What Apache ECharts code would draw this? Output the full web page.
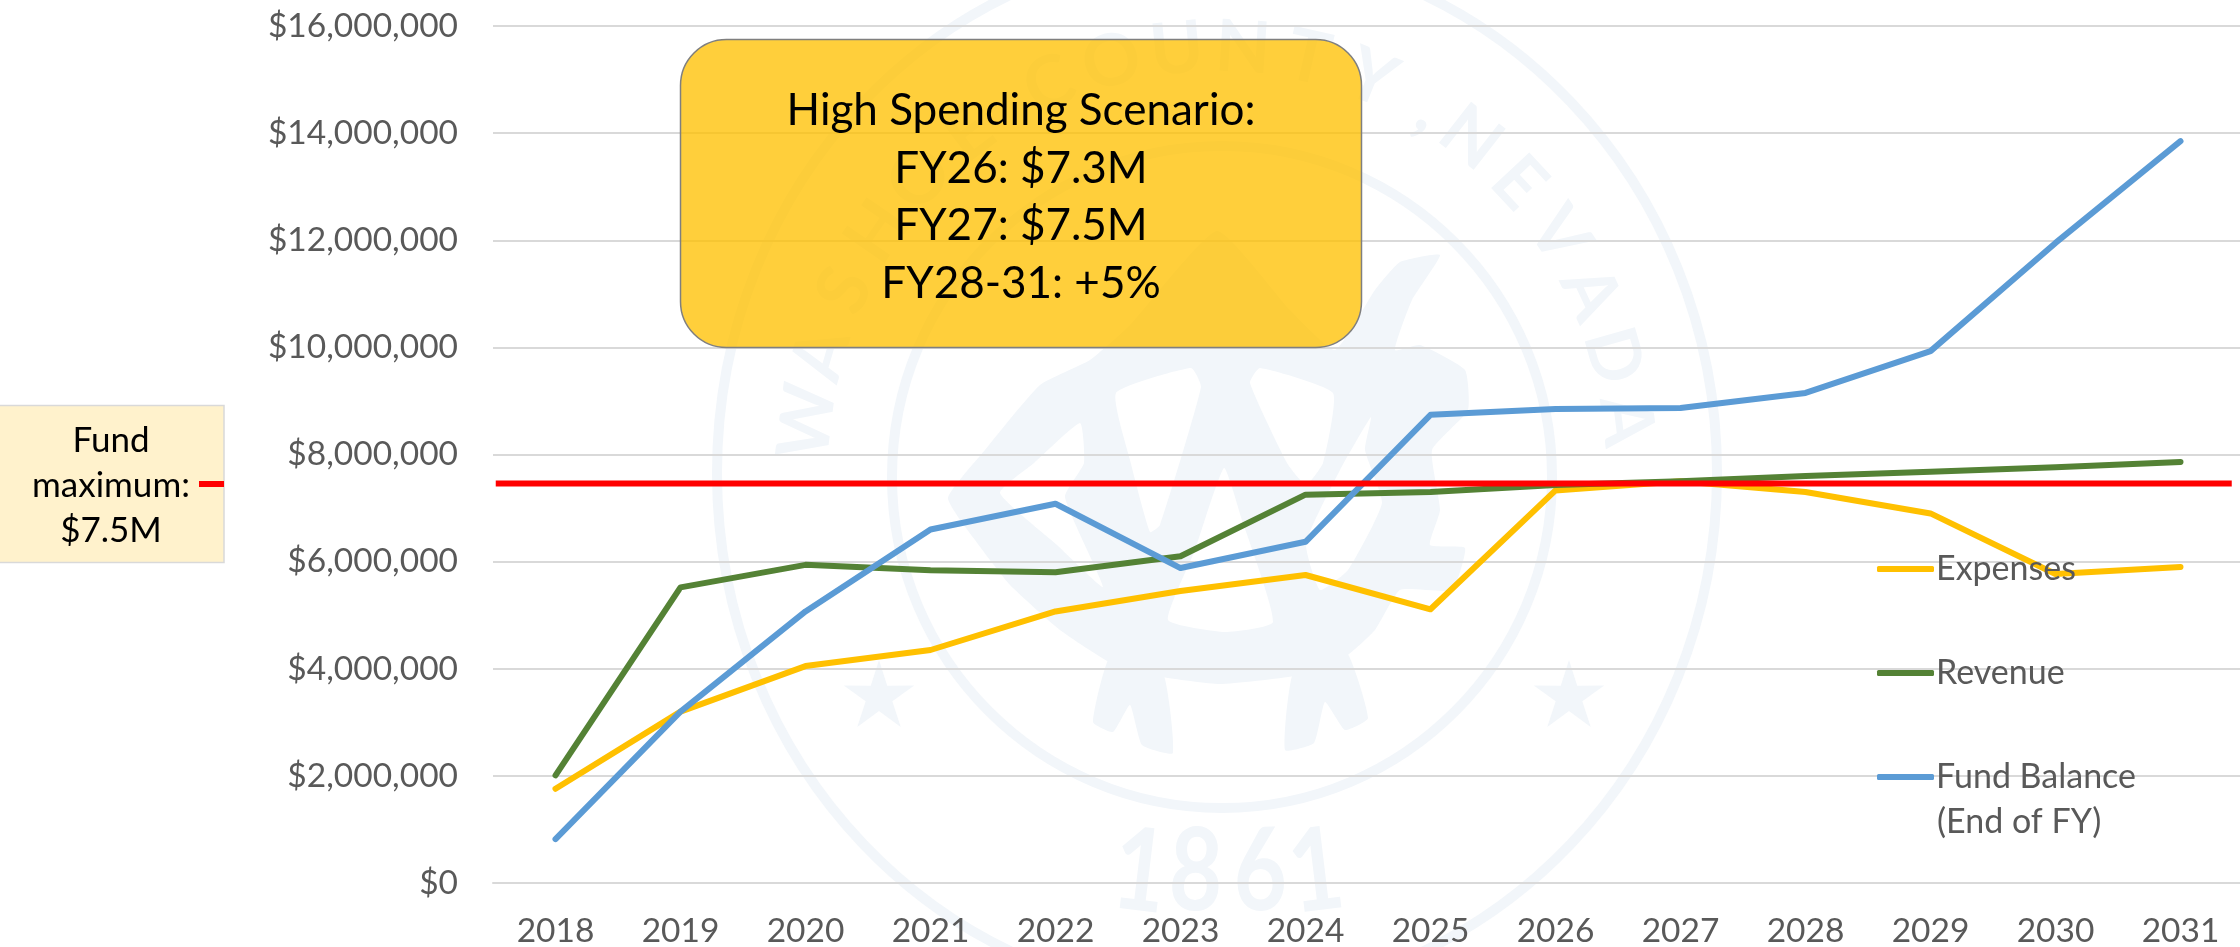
<!DOCTYPE html>
<html><head><meta charset="utf-8">
<style>html,body{margin:0;padding:0;background:#fff}#c{width:2240px;height:947px}</style>
<script src="https://cdn.jsdelivr.net/npm/echarts@6/dist/echarts.min.js"></script>
</head><body><div id="c"></div>
<script>
const categories = ['2018','2019','2020','2021','2022','2023','2024','2025','2026','2027','2028','2029','2030','2031'];
const expenses = [1760000,3200000,4050000,4350000,5070000,5450000,5750000,5110000,7330000,7500000,7300000,6900000,5770000,5900000];
const revenue = [2010000,5520000,5940000,5840000,5800000,6100000,7250000,7300000,7430000,7500000,7600000,7680000,7760000,7860000];
const fundBalance = [820000,3200000,5070000,6600000,7080000,5880000,6370000,8740000,8850000,8870000,9150000,9930000,11950000,13850000];
const fundMaxValue = 7460000;
const fundMaxSpan = [-0.478, 13.41];
const boxLines = ['High Spending Scenario:','FY26: $7.3M','FY27: $7.5M','FY28-31: +5%'];
const noteLines = ['Fund','maximum:','$7.5M'];
const seriesNames = ['Expenses','Revenue','Fund Balance (End of FY)','Fund maximum'];

const FONT = 'Lato';
const WM = '#f2f6fa';
const wm = [];
const ring = (cx,cy,rx,ry,w)=>wm.push({type:'ellipse',z:-1,silent:true,shape:{cx,cy,rx,ry},style:{fill:'none',stroke:WM,lineWidth:w}});
const poly = (pts,fill,smooth)=>wm.push({type:'polygon',z:-1,silent:true,shape:{points:pts,smooth:smooth===undefined?0.15:smooth},style:{fill:fill||WM}});
ring(1217,473,500,525,10);
ring(1222,477,330,331,10);
poly([[1217,231],[1290,310],[1335,350],[1375,290],[1400,262],[1440,255],[1412,300],[1395,350],[1420,345],[1465,370],[1468,410],[1432,450],[1440,510],[1430,545],[1465,548],[1452,590],[1400,590],[1375,630],[1345,657],[1294,676],[1220,684],[1162,677],[1111,663],[1060,630],[1010,585],[975,540],[948,498],[985,450],[1040,385],[1090,360],[1130,325]]);
poly([[1111,655],[1093,722],[1113,732],[1130,705],[1142,745],[1173,753],[1162,670]]);
poly([[1294,670],[1285,750],[1314,743],[1325,702],[1345,730],[1368,718],[1345,650]]);
poly([[1116,393],[1191,368],[1201,387],[1160,525],[1150,532],[1130,460]],'#fff');
poly([[1250,383],[1260,368],[1333,393],[1323,463],[1306,485],[1287,463]],'#fff');
poly([[1224,468],[1195,550],[1168,620],[1225,632],[1273,622],[1241,517]],'#fff');
poly([[1080,423],[1084,463],[1065,497],[1103,587],[1057,545],[1000,493],[1034,463]],'#fff');
poly([[1371,417],[1365,450],[1382,503],[1348,570],[1320,590],[1306,543],[1340,470]],'#fff');
[[879,697],[1569,697]].forEach(([x,y])=>{
  const pts=[];
  for(let i=0;i<10;i++){const r=i%2?14:37,a=i*Math.PI/5;pts.push([x+r*Math.sin(a),y-r*Math.cos(a)]);}
  poly(pts,WM,0);
});
const arcText = (txt,startDeg,stepDeg)=>[...txt].forEach((ch,i)=>{
  const a=(startDeg+i*stepDeg)*Math.PI/180;
  wm.push({type:'text',z:-1,silent:true,x:1217+412*Math.sin(a),y:473-425*Math.cos(a),rotation:-a,
    style:{text:ch,font:'bold 72px '+FONT,fill:WM,align:'center',verticalAlign:'middle'}});
});
arcText('WASHOE',-83,9.2);
arcText('COUNTY,',-24,9.2);
arcText('NEVADA',38,9);
[['1',1140,-0.12],['8',1196,-0.04],['6',1260,0.04],['1',1316,0.12]].forEach(([ch,x,r])=>wm.push({type:'text',z:-1,silent:true,x,y:873,rotation:r,scaleY:1.25,
  style:{text:ch,font:'bold 92px '+FONT,fill:WM,align:'center',verticalAlign:'middle'}}));

const annotations = [
  {type:'rect',z:10,silent:true,shape:{x:680.5,y:39.5,width:681,height:308,r:46},style:{fill:'rgba(255,192,0,0.77)',stroke:'#7f7f7f',lineWidth:1.5}},
  ...boxLines.map((t,i)=>({type:'text',z:11,silent:true,x:1021,y:111+i*57.5,style:{text:t,font:'44px '+FONT,fill:'#000',align:'center',verticalAlign:'middle'}})),
  {type:'rect',z:10,silent:true,shape:{x:-3,y:405.5,width:227,height:157},style:{fill:'#fff2cc',stroke:'#d9d9d9',lineWidth:1.5}},
  {type:'rect',z:11,silent:true,shape:{x:199,y:481,width:25,height:6},style:{fill:'#ff0000'}},
  ...noteLines.map((t,i)=>({type:'text',z:11,silent:true,x:111,y:441+i*45,style:{text:t,font:'35px '+FONT,fill:'#000',align:'center',verticalAlign:'middle'}})),
  {type:'text',z:11,silent:true,x:1937,y:822,style:{text:'(End of FY)',font:'34px '+FONT,fill:'#595959',align:'left',verticalAlign:'middle'}}
];

const lineSeries = (name,data,color)=>({name,type:'line',data,symbol:'none',smooth:false,
  lineStyle:{color,width:6,cap:'round',join:'round'},itemStyle:{color},z:3});

const chart = echarts.init(document.getElementById('c'),null,{renderer:'canvas'});
chart.setOption({
  animation:false,
  backgroundColor:'#fff',
  textStyle:{fontFamily:FONT},
  grid:{left:493,top:26,width:1750,height:857,containLabel:false,outerBoundsMode:'none'},
  xAxis:[
    {type:'category',data:categories,boundaryGap:true,
      axisLine:{show:true,lineStyle:{color:'#d9d9d9',width:2}},axisTick:{show:false},
      axisLabel:{color:'#595959',fontSize:33.5,fontFamily:FONT,margin:31,interval:0}},
    {type:'value',show:false,min:-0.5,max:13.5}
  ],
  yAxis:{type:'value',min:0,max:16000000,interval:2000000,
    axisLine:{show:false},axisTick:{show:false},
    splitLine:{lineStyle:{color:'#d9d9d9',width:2}},
    axisLabel:{color:'#595959',fontSize:33.5,fontFamily:FONT,margin:35,padding:[3,0,0,0],
      formatter:v=>'$'+v.toLocaleString('en-US')}},
  legend:[
    {data:[seriesNames[0]],left:1877,top:552},
    {data:[seriesNames[1]],left:1877,top:656},
    {data:[seriesNames[2]],left:1877,top:760}
  ].map(l=>Object.assign(l,{orient:'vertical',itemWidth:57,itemHeight:6,itemGap:0,padding:0,icon:'roundRect',z:6,
    formatter:n=>n.replace(' (End of FY)',''),
    textStyle:{color:'#595959',fontSize:34,fontFamily:FONT,padding:[0,0,0,-3]}})),
  series:[
    lineSeries(seriesNames[0],expenses,'#ffc000'),
    lineSeries(seriesNames[1],revenue,'#548235'),
    lineSeries(seriesNames[2],fundBalance,'#5b9bd5'),
    {name:seriesNames[3],type:'line',xAxisIndex:1,symbol:'none',z:4,
      data:fundMaxSpan.map(x=>[x,fundMaxValue]),lineStyle:{color:'#ff0000',width:6},itemStyle:{color:'#ff0000'}}
  ],
  graphic:{elements:[...wm,...annotations]}
});
</script></body></html>
